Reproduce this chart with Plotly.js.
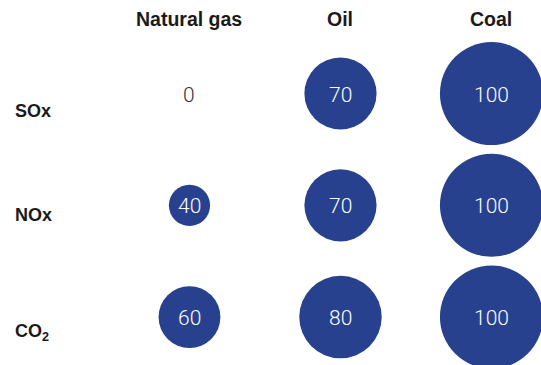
<!DOCTYPE html>
<html>
<head>
<meta charset="utf-8">
<script src="https://cdn.plot.ly/plotly-3.0.1.min.js"></script>
<style>html,body{margin:0;padding:0;background:#fff;}#chart{width:541px;height:365px;}</style>
</head>
<body>
<div id="chart"></div>
<script>
const fuels = ['Natural gas', 'Oil', 'Coal'];
const pollutants = ['SOx', 'NOx', 'CO2'];
const pollutantLabels = ['SOx', 'NOx', 'CO<sub>2</sub>'];
const naturalGas = [0, 40, 60];
const oil = [70, 70, 80];
const coal = [100, 100, 100];

const seriesByFuel = [naturalGas, oil, coal];
const circleColor = '#27418F';
const darkText = '#1a1a1a';
const rowLabelShift = [-17, -10, -15];

const traces = fuels.map((fuel, i) => {
  const vals = seriesByFuel[i];
  return {
    type: 'scatter',
    mode: 'markers',
    name: fuel,
    x: pollutants.map(() => fuel),
    y: pollutants,
    marker: {
      size: vals,
      sizemode: 'diameter',
      sizeref: 0.97,
      color: circleColor,
      opacity: 1,
      line: {width: 0}
    },
    hoverinfo: 'skip',
    cliponaxis: false
  };
});

const annotations = [];
fuels.forEach((f, i) => {
  annotations.push({
    x: f, xref: 'x', y: 1 - 19.5 / 365, yref: 'paper',
    text: '<b>' + f + '</b>', showarrow: false,
    xanchor: 'center', yanchor: 'middle',
    font: {family: 'Liberation Sans, Arial, sans-serif', size: 19.5, color: darkText}
  });
  seriesByFuel[i].forEach((v, j) => {
    annotations.push({
      x: f, xref: 'x', y: pollutants[j], yref: 'y', yshift: -1,
      text: String(v), showarrow: false,
      xanchor: 'center', yanchor: 'middle',
      font: {family: 'Roboto, Arial, sans-serif', weight: 300, size: 21,
             color: v === 0 ? '#333333' : '#ffffff'}
    });
  });
});
pollutants.forEach((p, i) => {
  annotations.push({
    x: 13 / 541, xref: 'paper', y: p, yref: 'y', yshift: rowLabelShift[i],
    text: '<b>' + pollutantLabels[i] + '</b>', showarrow: false,
    xanchor: 'left', yanchor: 'middle',
    font: {family: 'Liberation Sans, Arial, sans-serif', size: 18, color: darkText}
  });
});

const layout = {
  width: 541, height: 365,
  margin: {l: 0, r: 0, t: 0, b: 0, pad: 0},
  paper_bgcolor: '#ffffff', plot_bgcolor: '#ffffff',
  showlegend: false,
  xaxis: {
    type: 'category', categoryorder: 'array', categoryarray: fuels,
    range: [-1.255, 2.328], visible: false, fixedrange: true
  },
  yaxis: {
    type: 'category', categoryorder: 'array', categoryarray: pollutants,
    range: [2.429, -0.837], visible: false, fixedrange: true
  },
  annotations: annotations
};

Plotly.newPlot('chart', traces, layout, {displayModeBar: false, staticPlot: true});
</script>
</body>
</html>
